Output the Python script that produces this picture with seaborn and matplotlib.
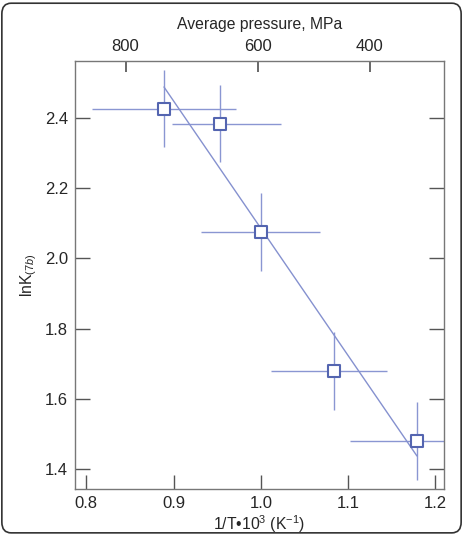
import numpy as np
import pandas as pd
import seaborn as sns
import matplotlib
matplotlib.use('Agg')
import matplotlib.pyplot as plt
from matplotlib.patches import FancyBboxPatch

# data
inv_t = [0.889, 0.953, 1.000, 1.084, 1.179]
ln_k = [2.426, 2.383, 2.075, 1.679, 1.480]
x_lo = [0.083, 0.055, 0.068, 0.072, 0.077]
x_hi = [0.082, 0.070, 0.068, 0.061, 0.060]
y_err = [0.11, 0.11, 0.11, 0.11, 0.11]
fit_x = [0.889, 1.179]
fit_y = [2.488, 1.437]
p_ticks = [0.845, 0.997, 1.125]
p_labels = ['800', '600', '400']

df = pd.DataFrame({'x': inv_t, 'y': ln_k})
fit = pd.DataFrame({'x': fit_x, 'y': fit_y})

sns.set_theme(style="white")
plt.rcParams['font.family'] = ['Liberation Sans', 'DejaVu Sans']
plt.rcParams['mathtext.fontset'] = 'custom'
plt.rcParams['mathtext.rm'] = 'Liberation Sans'
plt.rcParams['mathtext.it'] = 'Liberation Sans:italic'

fig = plt.figure(figsize=(4.63, 5.35), dpi=100)
ax = fig.add_axes([75/463, 1-489/535, (444-75)/463, (489-61)/535])

err_c = '#8a96d2'
ax.errorbar(df['x'], df['y'], xerr=[x_lo, x_hi], yerr=y_err, fmt='none',
            ecolor=err_c, elinewidth=1.0, capsize=0, zorder=2)
sns.lineplot(data=fit, x='x', y='y', ax=ax, color='#8591cf', linewidth=1.0, zorder=3)
sns.scatterplot(data=df, x='x', y='y', ax=ax, marker='s', s=85,
                facecolor='white', edgecolor='#5465b0', linewidth=1.5, zorder=4)

ax.set_xlim(0.787, 1.210)
ax.set_ylim(1.343, 2.562)
ax.set_xticks([0.8, 0.9, 1.0, 1.1, 1.2])
ax.set_xticklabels(['0.8', '0.9', '1.0', '1.1', '1.2'])
ax.set_yticks([1.4, 1.6, 1.8, 2.0, 2.2, 2.4])
ax.set_yticklabels(['1.4', '1.6', '1.8', '2.0', '2.2', '2.4'])
ax.tick_params(axis='both', direction='in', labelsize=12, color='#555555',
               width=1.0, pad=5)
ax.tick_params(axis='y', length=11, right=True, left=True)
ax.tick_params(axis='x', length=10, bottom=True, top=False)
for s in ax.spines.values():
    s.set_color('#777777')
    s.set_linewidth(1.0)

ax.set_xlabel('1/T•10$^{3}$ (K$^{-1}$)', fontsize=11.3, labelpad=2)
ax.set_ylabel(r'lnK$_{\mathit{(7b)}}$', fontsize=11.3, labelpad=4)

top = ax.secondary_xaxis('top')
top.set_xticks(p_ticks)
top.set_xticklabels(p_labels)
top.tick_params(direction='in', length=8, labelsize=12, color='#555555', pad=5)
top.spines['top'].set_visible(False)
top.set_xlabel('Average pressure, MPa', fontsize=11.3, labelpad=7)

frame = FancyBboxPatch((0.004, 0.004), 0.992, 0.99, boxstyle='round,pad=0,rounding_size=0.02',
                       transform=fig.transFigure, fill=False, edgecolor='#333333',
                       linewidth=1.2, zorder=0)
fig.patches.append(frame)

fig.savefig('out.png', dpi=100)
